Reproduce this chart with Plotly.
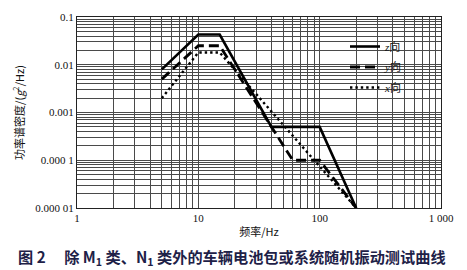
import plotly.graph_objects as go

# Frequencies (Hz) and PSD (g^2/Hz)
z_freq = [5, 10, 15, 40, 100, 200]
z_psd = [0.008, 0.043, 0.043, 0.0005, 0.0005, 0.00001]

y_freq = [5, 10, 15, 60, 100, 200]
y_psd = [0.005, 0.025, 0.025, 0.0001, 0.0001, 0.00001]

x_freq = [5, 10, 15, 200]
x_psd = [0.002, 0.018, 0.018, 0.00001]

x_tickvals = [1, 10, 100, 1000]
x_ticktext = ["1", "10", "100", "1 000"]
y_tickvals = [1e-5, 1e-4, 1e-3, 1e-2, 1e-1]
y_ticktext = ["0.000 01", "0.000 1", "0.001", "0.01", "0.1"]

series_names = ["<i>z</i>向", "<i>y</i>向", "<i>x</i>向"]

SERIF = "Liberation Serif, Noto Sans CJK SC, serif"
CJK = "Noto Sans CJK SC, sans-serif"
GRID = "#4a4a4a"

fig = go.Figure()
fig.add_trace(go.Scatter(x=z_freq, y=z_psd, mode="lines", name=series_names[0],
                         legendgroup="z",
                         line=dict(color="black", width=2.6)))
fig.add_trace(go.Scatter(x=y_freq, y=y_psd, mode="lines", name=series_names[1],
                         legendgroup="y",
                         line=dict(color="black", width=2.8, dash="10px,5px")))
fig.add_trace(go.Scatter(x=x_freq, y=x_psd, mode="lines", name=series_names[2],
                         legendgroup="x",
                         line=dict(color="black", width=2.4, dash="2.4px,3px")))

fig.update_xaxes(type="log", range=[0, 3], tickvals=x_tickvals, ticktext=x_ticktext,
                 showgrid=True, gridcolor=GRID, gridwidth=1,
                 minor=dict(dtick="D1", showgrid=True, gridcolor=GRID, gridwidth=1, ticks=""),
                 showline=True, linecolor="#222", linewidth=1, mirror=True,
                 ticks="", zeroline=False,
                 tickfont=dict(family=SERIF, size=11, color="#111"),
                 title=dict(text="频率/Hz", font=dict(family=CJK, size=11, color="#111"),
                            standoff=5))
fig.update_yaxes(type="log", range=[-5, -1], tickvals=y_tickvals, ticktext=y_ticktext,
                 showgrid=True, gridcolor=GRID, gridwidth=1,
                 minor=dict(dtick="D1", showgrid=True, gridcolor=GRID, gridwidth=1, ticks=""),
                 showline=True, linecolor="#222", linewidth=1, mirror=True,
                 ticks="", zeroline=False,
                 tickfont=dict(family=SERIF, size=11, color="#111"),
                 title=dict(text="功率谱密度/(<i>g</i><sup>2</sup>/Hz)",
                            font=dict(family=CJK, size=11, color="#111"),
                            standoff=8))

# white backing behind the legend (covers grid, below traces)
fig.add_shape(type="rect", xref="paper", yref="paper",
              x0=(337 - 77) / 364, x1=(420 - 77) / 364,
              y0=(208 - 93) / 191, y1=(208 - 40) / 191,
              fillcolor="white", line=dict(width=0), layer="between")

fig.add_annotation(text="图 2　 除 M<sub>1</sub> 类、N<sub>1</sub> 类外的车辆电池包或系统随机振动测试曲线",
                   xref="paper", yref="paper", x=(232 - 77) / 364, y=(208 - 257) / 191,
                   xanchor="center", yanchor="middle", showarrow=False,
                   font=dict(family=CJK, size=15.2, color="#1e2147", weight="bold"))

fig.update_layout(
    width=467, height=270,
    margin=dict(l=77, r=26, t=17, b=62),
    plot_bgcolor="white", paper_bgcolor="white",
    showlegend=True,
    legend=dict(x=(345 - 77) / 364, y=(208 - 32) / 191, xanchor="left", yanchor="top",
                bgcolor="rgba(255,255,255,0)", borderwidth=0,
                font=dict(family=SERIF, size=11, color="#111"),
                tracegroupgap=1.5, itemwidth=30),
)

fig.write_html("out.html")
